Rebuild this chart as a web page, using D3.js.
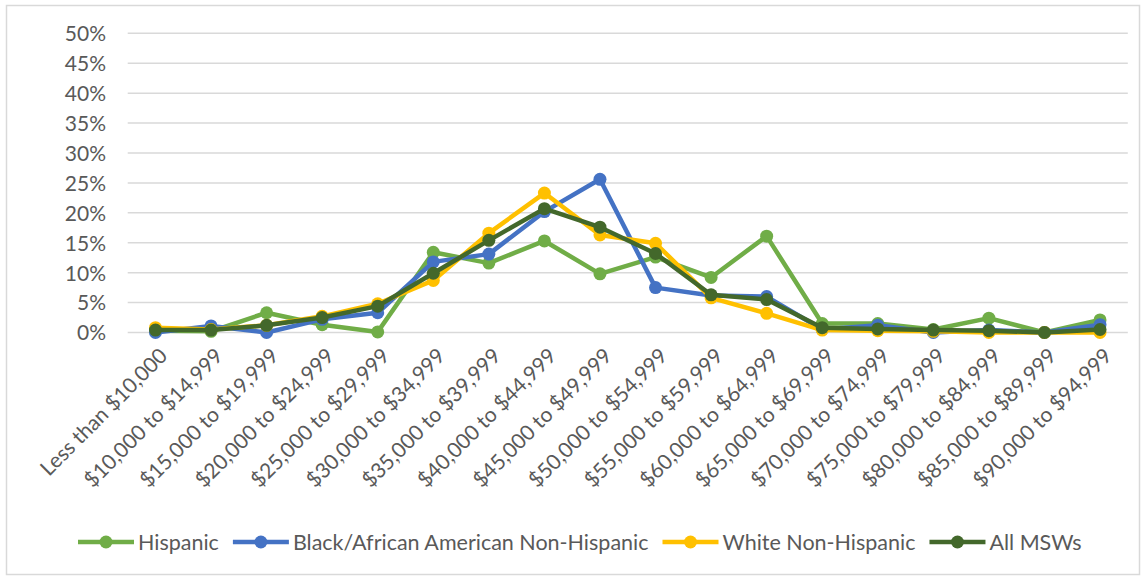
<!DOCTYPE html>
<html><head><meta charset="utf-8">
<script src="https://cdn.jsdelivr.net/npm/d3@7"></script>
<style>
html,body{margin:0;padding:0;background:#fff;}
svg{display:block;font-family:Lato,"Open Sans",sans-serif;}
</style></head>
<body><svg id="chart" width="1144" height="578"></svg>
<script>
const categories = ["Less than $10,000","$10,000 to $14,999","$15,000 to $19,999","$20,000 to $24,999","$25,000 to $29,999","$30,000 to $34,999","$35,000 to $39,999","$40,000 to $44,999","$45,000 to $49,999","$50,000 to $54,999","$55,000 to $59,999","$60,000 to $64,999","$65,000 to $69,999","$70,000 to $74,999","$75,000 to $79,999","$80,000 to $84,999","$85,000 to $89,999","$90,000 to $94,999"];
const hispanic = [0.3,0.2,3.3,1.3,0.1,13.4,11.6,15.3,9.8,12.6,9.2,16.1,1.5,1.5,0.5,2.4,0.0,2.1];
const black    = [0.0,1.1,0.0,2.2,3.3,11.8,13.1,20.2,25.6,7.5,6.2,6.0,0.5,1.2,0.0,0.4,0.0,1.3];
const white    = [0.8,0.5,1.2,2.7,4.8,8.7,16.6,23.3,16.3,14.9,5.8,3.2,0.4,0.3,0.2,0.0,0.0,0.0];
const allMSW   = [0.4,0.4,1.2,2.5,4.4,9.9,15.4,20.7,17.6,13.2,6.3,5.5,0.8,0.6,0.4,0.3,0.0,0.5];
const seriesNames = ["Hispanic","Black/African American Non-Hispanic","White Non-Hispanic","All MSWs"];
const seriesColors = ["#70AD47","#4472C4","#FFC000","#43682B"];
const yTicks = [0,5,10,15,20,25,30,35,40,45,50];

const seriesData = [hispanic, black, white, allMSW];
const svg = d3.select("#chart");
svg.append("rect").attr("x",6.5).attr("y",5.5).attr("width",1133).attr("height",569)
  .attr("fill","#fff").attr("stroke","#D9D9D9").attr("stroke-width",1.5);

const x = d3.scaleBand().domain(categories).range([127.7,1127.8]);
const y = d3.scaleLinear().domain([0,50]).range([332.5,33.3]);
const cx = d => x(d) + x.bandwidth()/2;

// gridlines
svg.append("g").selectAll("line").data(yTicks).join("line")
  .attr("x1",127.7).attr("x2",1127.8).attr("y1",d=>y(d)).attr("y2",d=>y(d))
  .attr("stroke","#D9D9D9").attr("stroke-width",1.5);

// y axis
const yAxis = d3.axisLeft(y).tickValues(yTicks).tickFormat(d=>d+"%").tickSize(0).tickPadding(0);
const gy = svg.append("g").attr("transform","translate(106,0)").call(yAxis);
gy.select(".domain").remove();
gy.selectAll("text").attr("fill","#595959").style("font-size","21px").style("font-family","Lato").attr("dy","0.35em");

// x axis labels
const xAxis = d3.axisBottom(x).tickSize(0).tickPadding(0);
const gx = svg.append("g").attr("transform","translate(0,343)").call(xAxis);
gx.select(".domain").remove();
gx.selectAll("text").attr("fill","#595959").style("font-size","21px").style("font-family","Lato")
  .attr("text-anchor","end").attr("y",0)
  .attr("transform","translate(8,9) rotate(-45)").attr("dy","0.35em");

// lines
const line = d3.line().x((d,i)=>cx(categories[i])).y(d=>y(d));
seriesData.forEach((arr,si)=>{
  const g = svg.append("g");
  g.append("path").datum(arr).attr("d",line).attr("fill","none")
    .attr("stroke",seriesColors[si]).attr("stroke-width",4.5).attr("stroke-linejoin","round").attr("stroke-linecap","round");
  g.selectAll("circle").data(arr).join("circle")
    .attr("cx",(d,i)=>cx(categories[i])).attr("cy",d=>y(d)).attr("r",6.5).attr("fill",seriesColors[si]);
});

// legend
const lg = svg.append("g").attr("transform","translate(0,542)");
let lx = 78;
seriesNames.forEach((name,i)=>{
  const it = lg.append("g").attr("transform",`translate(${lx},0)`);
  it.append("line").attr("x1",0).attr("x2",56).attr("stroke",seriesColors[i]).attr("stroke-width",4.5);
  it.append("circle").attr("cx",28).attr("r",6.5).attr("fill",seriesColors[i]);
  const t = it.append("text").attr("x",60).attr("dy","0.35em").text(name)
    .attr("fill","#595959").style("font-size","21.5px").style("font-family","Lato");
  lx += 60 + t.node().getComputedTextLength() + 14;
});
</script></body></html>
